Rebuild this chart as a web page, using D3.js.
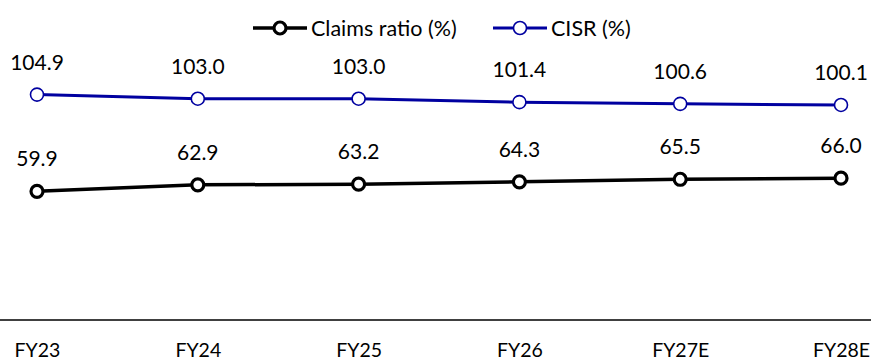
<!DOCTYPE html>
<html><head><meta charset="utf-8">
<script src="https://cdn.jsdelivr.net/npm/d3@7"></script>
<style>body{margin:0;background:#fff}svg{display:block}text{font-family:Lato,"Open Sans",sans-serif;fill:#000}</style>
</head><body><svg id="c" width="871" height="360"></svg>
<script>
const categories = ["FY23","FY24","FY25","FY26","FY27E","FY28E"];
const claimsRatio = [59.9,62.9,63.2,64.3,65.5,66.0];
const cisr = [104.9,103.0,103.0,101.4,100.6,100.1];
const seriesNames = ["Claims ratio (%)","CISR (%)"];

const svg = d3.select("#c");
const W = 871, H = 360;
const x = d3.scalePoint().domain(categories).range([37, 841]);
const y = d3.scaleLinear().domain([0, 140]).range([320, 19.2]);

svg.append("line").attr("x1",0).attr("x2",W).attr("y1",y(0)).attr("y2",y(0))
  .attr("stroke","#000").attr("stroke-width",1.5);

const xAxis = d3.axisBottom(x).tickSize(0).tickPadding(0);
const gx = svg.append("g").attr("transform",`translate(0,${y(0)})`).call(xAxis);
gx.select(".domain").remove();
gx.selectAll("text").attr("dy",null).attr("y",37).style("font-size","19.5px").style("font-family","Lato");

const series = [
  {name:seriesNames[0], values:claimsRatio, color:"#000000", lw:3.5, r:6, mw:3.2},
  {name:seriesNames[1], values:cisr, color:"#0000a0", lw:3, r:6.5, mw:1.6}
];
const line = d3.line().x((d,i)=>x(categories[i])).y(d=>y(d));
series.forEach(s=>{
  const g = svg.append("g");
  g.append("path").attr("d",line(s.values)).attr("fill","none").attr("stroke",s.color).attr("stroke-width",s.lw);
  g.selectAll("circle").data(s.values).join("circle")
    .attr("cx",(d,i)=>x(categories[i])).attr("cy",d=>y(d)).attr("r",s.r)
    .attr("fill","#fff").attr("stroke",s.color).attr("stroke-width",s.mw);
  g.selectAll("text").data(s.values).join("text")
    .attr("x",(d,i)=>x(categories[i])).attr("y",d=>y(d)-25)
    .attr("text-anchor","middle").style("font-size","21px")
    .text(d=>d.toFixed(1));
});

const leg = [{s:series[0], x0:253, tx:311},{s:series[1], x0:493, tx:551}];
leg.forEach(l=>{
  const g = svg.append("g");
  g.append("line").attr("x1",l.x0).attr("x2",l.x0+54).attr("y1",28).attr("y2",28)
    .attr("stroke",l.s.color).attr("stroke-width",l.s.lw);
  g.append("circle").attr("cx",l.x0+27).attr("cy",28).attr("r",l.s.r)
    .attr("fill","#fff").attr("stroke",l.s.color).attr("stroke-width",l.s.mw);
  g.append("text").attr("x",l.tx).attr("y",35.5).style("font-size","21.5px").text(l.s.name);
});
</script></body></html>
